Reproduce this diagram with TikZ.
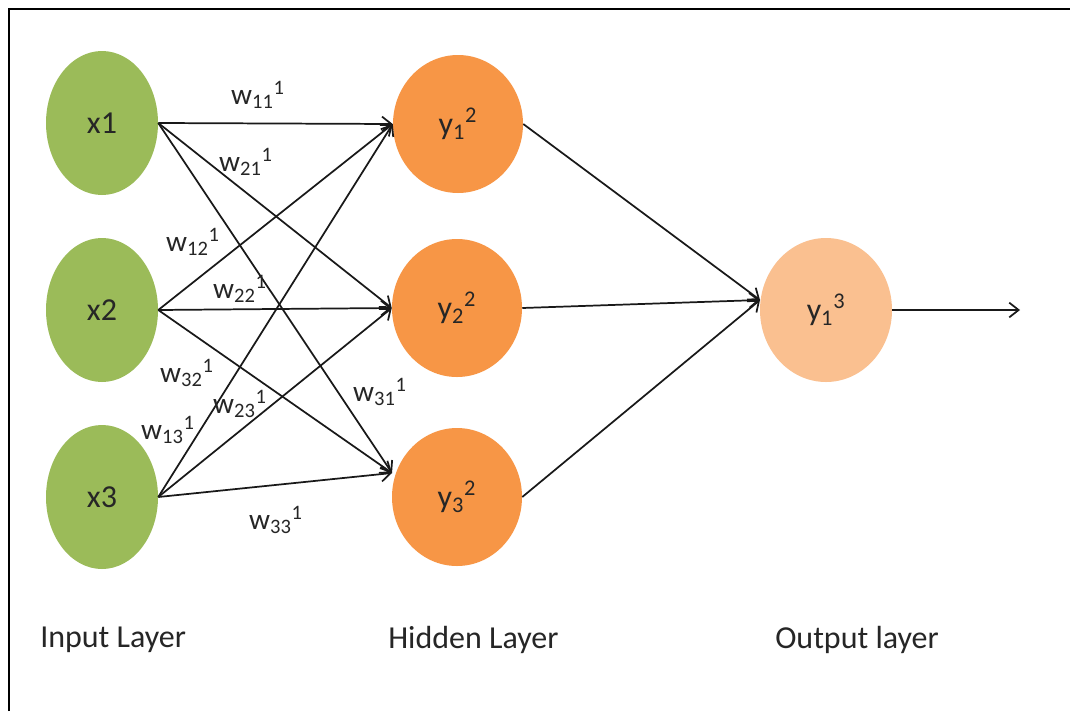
\documentclass[tikz,border=0pt]{standalone}
\usepackage{fontspec}
\setmainfont{Carlito}
\usetikzlibrary{shapes.geometric,arrows.meta}
\definecolor{ingreen}{HTML}{9BBB59}
\definecolor{hidorange}{HTML}{F79646}
\definecolor{outorange}{HTML}{FAC090}
\definecolor{txt}{HTML}{262626}
\begin{document}
\begin{tikzpicture}[x=0.75pt,y=-0.75pt,
  neuron/.style={ellipse, draw=none, inner sep=0pt, text=txt, font=\fontsize{24}{26}\selectfont},
  inn/.style={neuron, fill=ingreen, minimum width=84pt, minimum height=108pt},
  hid/.style={neuron, fill=hidorange, minimum width=97.5pt, minimum height=103.5pt},
  outn/.style={neuron, fill=outorange, minimum width=99pt, minimum height=108pt},
  conn/.style={line width=1.3pt, draw=black!90, -{Straight Barb[length=7pt,width=11pt,line width=1.3pt]}},
  wlab/.style={font=\fontsize{22}{24}\selectfont, text=txt, inner sep=0pt},
  lay/.style={font=\fontsize{24}{28}\selectfont, text=txt, anchor=west, inner sep=0pt}]
\useasboundingbox (0,0) rectangle (1070,711);
\fill[white] (0,0) rectangle (1070,711);
\draw[line width=1.6pt] (9,711) -- (9,9) -- (1070,9);

\node[inn] (x1) at (102,123) {x1};
\node[inn] (x2) at (102,310) {x2};
\node[inn] (x3) at (102,497) {x3};
\node[hid] (y1) at (458,124) {y\textsubscript{1}\textsuperscript{2}};
\node[hid] (y2) at (457,308) {y\textsubscript{2}\textsuperscript{2}};
\node[hid] (y3) at (457,497) {y\textsubscript{3}\textsuperscript{2}};
\node[outn] (o) at (826,310) {y\textsubscript{1}\textsuperscript{3}};
\coordinate (h3in) at (392,473);
\coordinate (oin) at (760,300);
\coordinate (oend) at (1020,310);

\foreach \s in {x1,x2,x3}{
  \draw[conn] (\s.east) -- (y1.west);
  \draw[conn] (\s.east) -- (y2.west);
  \draw[conn] (\s.east) -- (h3in);
}
\draw[conn] (y1.east) -- (oin);
\draw[conn] (y2.east) -- (oin);
\draw[conn] (y3.east) -- (oin);
\draw[conn] (o.east) -- (oend);

\node[wlab] (w11) at (258,95) {w\textsubscript{11}\textsuperscript{1}};
\node[wlab] (w21) at (246,162) {w\textsubscript{21}\textsuperscript{1}};
\node[wlab] (w12) at (193,242) {w\textsubscript{12}\textsuperscript{1}};
\node[wlab] (w22) at (240,289) {w\textsubscript{22}\textsuperscript{1}};
\node[wlab] (w32) at (187,373) {w\textsubscript{32}\textsuperscript{1}};
\node[wlab] (w23) at (240,404) {w\textsubscript{23}\textsuperscript{1}};
\node[wlab] (w31) at (380,392) {w\textsubscript{31}\textsuperscript{1}};
\node[wlab] (w13) at (168,430) {w\textsubscript{13}\textsuperscript{1}};
\node[wlab] (w33) at (276,520) {w\textsubscript{33}\textsuperscript{1}};

\node[lay] (l1) at (40,640) {Input Layer};
\node[lay] (l2) at (388,640) {Hidden Layer};
\node[lay] (l3) at (775,640) {Output layer};
\end{tikzpicture}
\end{document}
